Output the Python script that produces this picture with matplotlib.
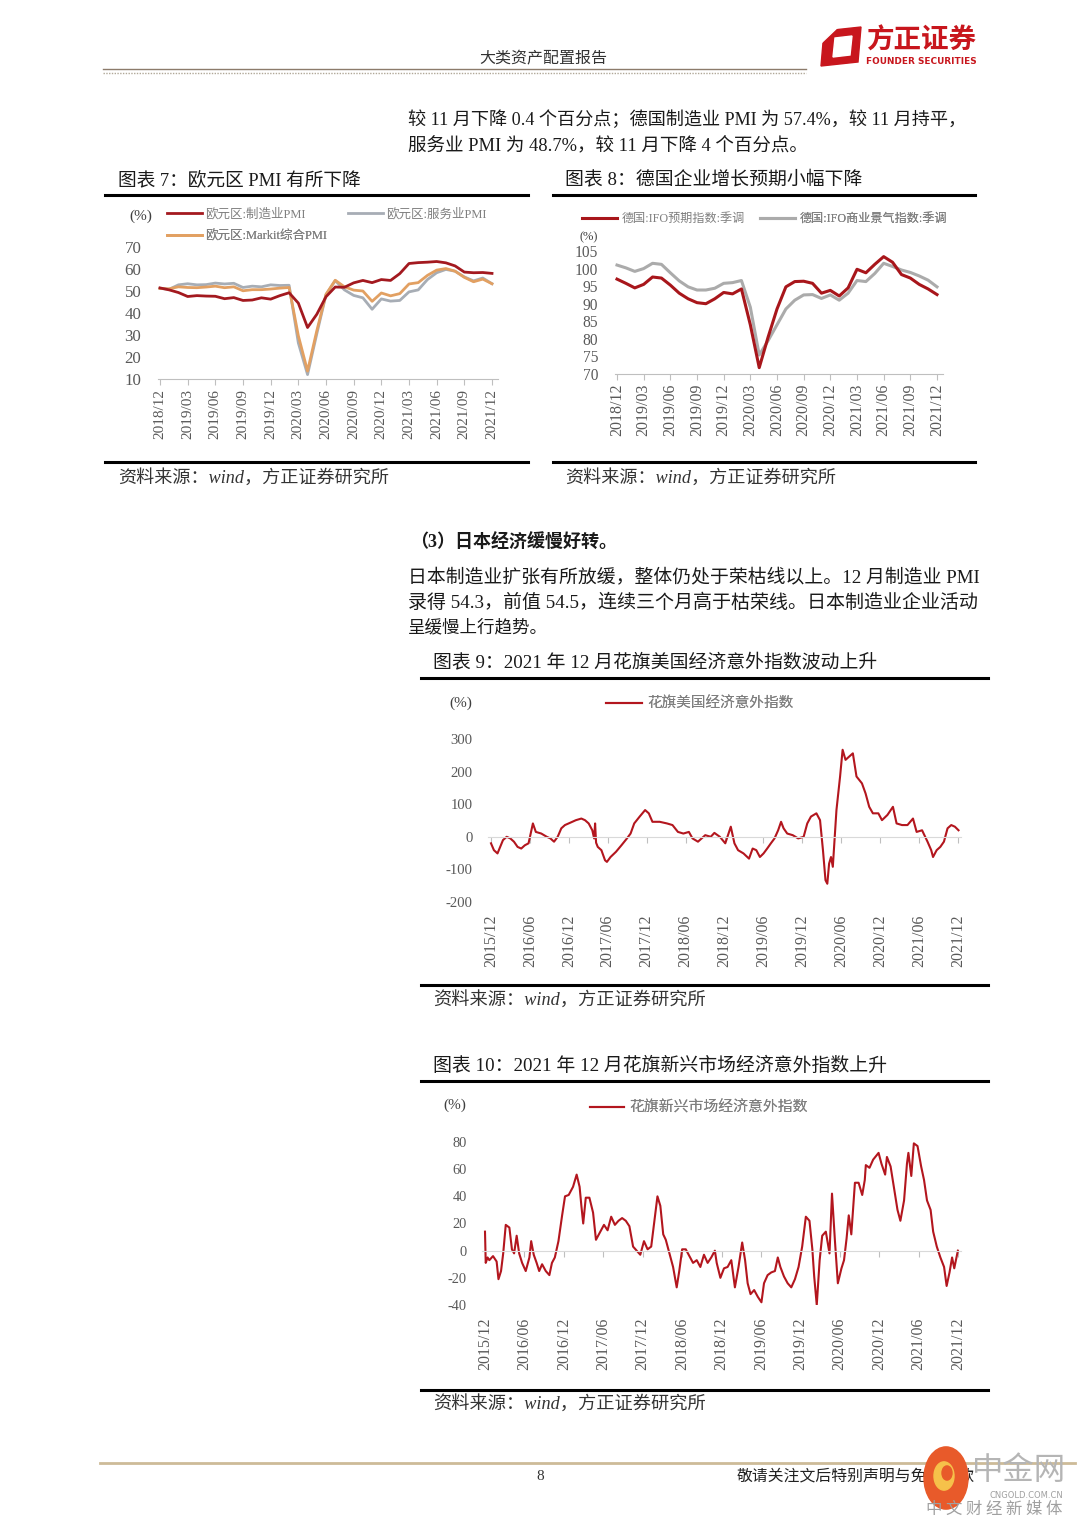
import matplotlib
matplotlib.use('Agg')
import matplotlib.pyplot as plt
from matplotlib.patches import Polygon, Circle
from matplotlib.lines import Line2D
import numpy as np

plt.rcParams['font.family'] = ['Liberation Serif', 'Noto Sans CJK SC']
plt.rcParams['axes.unicode_minus'] = False

# ---------------- data ----------------
# Chart 7: Eurozone PMI, monthly 2018/12 - 2021/12
ez_mfg = [51.4, 50.5, 49.3, 47.5, 47.9, 47.7, 47.6, 46.5, 47.0, 45.7, 45.9, 46.9, 46.3,
          47.9, 49.2, 44.5, 33.4, 39.4, 47.4, 51.8, 51.7, 53.7, 54.8, 53.8, 55.2,
          54.8, 57.9, 62.5, 62.9, 63.1, 63.4, 62.8, 61.4, 58.6, 58.3, 58.4, 58.0]
ez_srv = [51.2, 50.8, 52.8, 53.3, 52.8, 52.9, 53.6, 53.2, 53.5, 51.6, 52.2, 51.9, 52.8,
          52.5, 52.6, 26.4, 12.0, 30.5, 48.3, 54.7, 50.5, 48.0, 46.9, 41.7, 46.4,
          45.4, 45.7, 49.6, 50.5, 55.2, 58.3, 59.8, 59.0, 56.4, 54.6, 55.9, 53.3]
ez_comp = [51.1, 51.0, 51.9, 51.6, 51.5, 51.8, 52.2, 51.5, 51.9, 50.1, 50.6, 50.6, 50.9,
           51.3, 51.6, 29.7, 13.6, 31.9, 48.5, 54.9, 51.9, 50.4, 50.0, 45.3, 49.1,
           47.8, 48.8, 53.2, 53.8, 57.1, 59.5, 60.2, 59.0, 56.2, 54.2, 55.4, 53.3]
labels_q = ['2018/12', '2019/03', '2019/06', '2019/09', '2019/12', '2020/03', '2020/06',
            '2020/09', '2020/12', '2021/03', '2021/06', '2021/09', '2021/12']
yticks7 = [10, 20, 30, 40, 50, 60, 70]

# Chart 8: Germany IFO, monthly 2018/12 - 2021/12
ifo_exp = [97.0, 95.8, 94.5, 95.5, 97.6, 97.3, 95.3, 93.0, 91.4, 90.3, 90.0, 91.4, 93.2,
           92.8, 94.2, 84.0, 71.8, 80.5, 88.5, 94.8, 96.3, 96.4, 95.8, 93.0, 93.8,
           92.2, 94.5, 99.8, 98.8, 101.2, 103.4, 101.8, 98.3, 97.3, 95.5, 94.2, 92.6]
ifo_clim = [101.0, 100.2, 99.2, 100.0, 101.5, 101.2, 98.8, 96.5, 94.8, 93.9, 93.9, 94.4, 95.8,
            96.0, 96.6, 89.0, 75.4, 79.5, 84.0, 88.5, 91.0, 92.5, 92.6, 91.5, 92.5,
            91.0, 93.0, 96.6, 96.3, 98.6, 101.5, 100.6, 99.6, 98.9, 97.9, 96.7, 94.8]
yticks8 = [70, 75, 80, 85, 90, 95, 100, 105]

# Chart 9: Citi US economic surprise index (months since 2015/12)
us_month = [0.0, 0.45, 1.0, 1.85, 2.42, 2.98, 3.54, 4.1, 4.66, 5.22, 5.79, 6.46, 6.91, 7.75,
            8.6, 9.16, 9.72, 10.28, 10.84, 11.4, 11.97, 12.53, 13.09, 13.93, 14.49, 15.06,
            15.62, 15.9, 16.05, 16.2, 16.46, 17.02, 17.58, 17.87, 18.43, 19.27, 20.11, 20.96,
            21.52, 22.08, 22.92, 23.76, 24.33, 24.89, 26.01, 27.13, 27.98, 28.82, 29.66,
            30.51, 31.07, 31.91, 32.47, 33.03, 33.88, 34.44, 35.28, 36.12, 36.97, 37.53,
            38.09, 38.93, 39.78, 40.34, 40.9, 41.46, 42.02, 42.58, 43.15, 43.71, 44.27,
            44.72, 45.11, 45.67, 46.52, 47.36, 48.2, 48.76, 49.33, 50.17, 50.73, 51.18,
            51.57, 51.85, 52.13, 52.42, 52.7, 53.26, 53.82, 54.21, 54.66, 55.22, 55.79,
            56.35, 57.19, 57.75, 58.31, 58.88, 59.72, 60.28, 61.12, 61.97, 62.53, 63.37,
            64.21, 65.06, 65.62, 66.46, 67.3, 67.87, 68.15, 68.71, 69.27, 69.83, 70.39,
            70.96, 71.52, 72.08]
us_value = [-20, -41, -51, -10, 0, -5, -15, -31, -36, -26, -20, 41, 15, 10,
            0, -5, -15, 0, 26, 36, 41, 46, 51, 56, 51, 41,
            20, -5, 41, -18, -31, -41, -72, -77, -62, -46, -26, -5,
            10, 41, 62, 82, 72, 46, 46, 41, 36, 15, 10,
            15, -5, -15, -5, 5, 0, 12, 0, -20, 31, -20,
            -41, -51, -67, -36, -41, -62, -51, -36, -20, -5, 20,
            46, 26, 10, 5, -5, 0, 41, 62, 72, 51, -41,
            -133, -144, -82, -62, -92, 82, 185, 267, 236, 246, 256,
            185, 164, 133, 92, 72, 72, 51, 67, 92, 41, 36,
            36, 56, 15, 20, -15, -41, -62, -41, -31, -15, 26,
            36, 31, 20]
labels_h = ['2015/12', '2016/06', '2016/12', '2017/06', '2017/12', '2018/06', '2018/12',
            '2019/06', '2019/12', '2020/06', '2020/12', '2021/06', '2021/12']
yticks9 = [-200, -100, 0, 100, 200, 300]

# Chart 10: Citi EM economic surprise index (months since 2015/12)
em_month = [0.0, 0.11, 0.39, 0.66, 1.22, 1.77, 2.05, 2.44, 2.77, 3.16, 3.71, 4.1, 4.43, 4.82,
            5.2, 5.65, 6.2, 6.76, 7.03, 7.42, 7.86, 8.25, 8.69, 9.25, 9.8, 10.19, 10.63,
            11.18, 11.74, 12.18, 12.74, 13.4, 13.95, 14.4, 14.67, 14.95, 15.34, 15.89,
            16.45, 16.89, 17.55, 18.11, 18.66, 19.21, 19.77, 20.32, 20.87, 21.43, 21.98,
            22.54, 23.09, 23.64, 24.2, 24.75, 25.3, 25.86, 26.25, 26.69, 27.13, 27.52,
            28.07, 28.63, 29.18, 29.57, 30.01, 30.56, 31.12, 31.67, 32.23, 32.78, 33.33,
            33.89, 34.44, 34.99, 35.27, 35.83, 36.38, 36.93, 37.49, 38.04, 38.59, 39.15,
            39.59, 39.98, 40.42, 40.97, 41.53, 42.08, 42.47, 43.02, 43.58, 44.13, 44.57,
            44.96, 45.51, 46.07, 46.62, 47.18, 47.73, 48.28, 48.84, 49.39, 49.83, 50.11,
            50.5, 50.94, 51.33, 51.88, 52.44, 52.82, 53.27, 53.71, 54.26, 54.65, 55.04,
            55.37, 55.76, 56.31, 56.87, 57.42, 57.81, 57.97, 58.53, 59.08, 59.91, 60.35,
            60.91, 61.18, 61.74, 62.29, 62.79, 63.23, 63.79, 64.23, 64.45, 64.89, 65.28,
            65.84, 66.39, 66.83, 67.28, 67.83, 68.22, 68.77, 69.32, 69.88, 70.27, 70.71,
            71.1, 71.43, 71.98]
em_value = [14, -9, -5, -7, -4, -8, -21, -15, -2, 19, 17, 1, -2, 11,
            -2, -9, -15, -5, 7, -3, -9, -15, -10, -15, -18, -9, -5,
            7, 26, 40, 41, 47, 56, 47, 33, 20, 39, 39,
            28, 8, 14, 19, 15, 25, 19, 22, 24, 22, 18,
            3, 0, -3, 7, 1, 3, 25, 40, 33, 12, 8,
            -2, -12, -27, -15, 1, 1, -4, -9, -7, -12, -3,
            -9, -5, 0, -9, -20, -13, -12, -7, -27, -12, 6,
            -7, -24, -32, -29, -34, -38, -24, -18, -16, -15, -5,
            -12, -19, -24, -27, -21, -12, 3, 25, 22, 1, -19,
            -40, -7, 11, 14, -2, 42, 7, -24, -13, -7, 9,
            26, 12, 50, 50, 41, 52, 63, 61, 67, 72, 64,
            56, 69, 62, 45, 30, 22, 37, 64, 72, 55, 79,
            77, 62, 52, 37, 30, 14, 3, -5, -12, -26, -16,
            -5, -13, 0]
yticks10 = [-40, -20, 0, 20, 40, 60, 80]

# ---------------- page ----------------
W, H = 1080, 1527
fig = plt.figure(figsize=(W / 100, H / 100), dpi=100)
fig.patch.set_facecolor('white')
renderer = fig.canvas.get_renderer()

TXT = '#1A1A1A'
GREY = '#595959'


def fx(x):
    return x / W


def fy(y):
    return 1 - y / H


def text(x, y, s, size, x1=None, **kw):
    kw.setdefault('va', 'center')
    kw.setdefault('ha', 'left')
    kw.setdefault('color', TXT)
    t = fig.text(fx(x), fy(y), s, fontsize=size, **kw)
    if x1 is not None:
        w = t.get_window_extent(renderer).width
        t.set_fontsize(size * (x1 - x) / w)
    return t


def hline(x0, x1, y, lw, color, **kw):
    fig.add_artist(Line2D([fx(x0), fx(x1)], [fy(y), fy(y)], lw=lw, color=color,
                          transform=fig.transFigure, **kw))


def make_axes(left, right, top, bottom, tick0_px, tick1_px, t0, t1, ylim):
    ax = fig.add_axes([fx(left), fy(bottom), (right - left) / W, (bottom - top) / H])
    k = (t1 - t0) / (tick1_px - tick0_px)
    ax.set_xlim(t0 + (left - tick0_px) * k, t0 + (right - tick0_px) * k)
    ax.set_ylim(*ylim)
    ax.patch.set_alpha(0)
    for s in ['top', 'right', 'left']:
        ax.spines[s].set_visible(False)
    return ax


def legend_at(ax, handle, label, x, y, size, hl, pad):
    lg = ax.legend([handle], [label], loc='center left', bbox_to_anchor=(fx(x), fy(y)),
                   bbox_transform=fig.transFigure, frameon=False, borderpad=0,
                   borderaxespad=0, handlelength=hl, handletextpad=pad,
                   prop={'size': size})
    for t in lg.get_texts():
        t.set_color('#7F7F7F')
    ax.add_artist(lg)


# header
text(543, 58, '大类资产配置报告', 11.5, ha='center', color='#333333')
hline(103, 806, 69, 1.0, '#8C7B6B')
hline(103, 806, 72.5, 1.0, '#B0A898', linestyle=(0, (1, 1)))
# logo
fig.add_artist(Polygon([(fx(x), fy(y)) for x, y in
                        [(824, 31), (861, 27), (858, 62), (821, 66)]],
                       closed=True, color='#C8161D', transform=fig.transFigure))
fig.add_artist(Polygon([(fx(x), fy(y)) for x, y in
                        [(835, 38), (852, 36), (850, 55), (833, 57)]],
                       closed=True, color='white', transform=fig.transFigure))
fig.add_artist(Polygon([(fx(x), fy(y)) for x, y in
                        [(818, 25), (840, 25), (818, 46)]],
                       closed=True, color='white', transform=fig.transFigure))
text(866, 41, '方正证券', 20, x1=976, color='#C8161D', fontweight='bold',
     family=['Noto Sans CJK SC'])
text(866, 61, 'FOUNDER SECURITIES', 6.5, x1=976, color='#C8161D', fontweight='bold',
     family=['DejaVu Sans'])

# body text top
text(408, 120, '较 11 月下降 0.4 个百分点；德国制造业 PMI 为 57.4%，较 11 月持平，', 12.6, x1=968)
text(408, 145, '服务业 PMI 为 48.7%，较 11 月下降 4 个百分点。', 12.6, x1=808)

# ---------- chart 7 ----------
text(118, 180, '图表 7：欧元区 PMI 有所下降', 12.5, x1=362)
hline(105, 528, 195, 2.2, '#000000')
hline(105, 528, 462, 2.2, '#000000')
text(118, 478, '资料来源：wind，方正证券研究所', 12, x1=388, style='italic', color='#333333')

ax7 = make_axes(158, 498, 247, 379, 160, 492, 0, 36, (10, 70))
m7 = np.arange(len(ez_mfg))
l_srv, = ax7.plot(m7, ez_srv, color='#A7ADB5', lw=2.0)
l_cmp, = ax7.plot(m7, ez_comp, color='#E2A062', lw=2.0)
l_mfg, = ax7.plot(m7, ez_mfg, color='#A3191F', lw=2.0)
ax7.set_yticks(yticks7)
ax7.set_yticklabels([str(v) for v in yticks7])
ax7.set_xticks(np.arange(0, 37, 3))
ax7.set_xticklabels(labels_q, rotation=90)
ax7.tick_params(axis='y', length=0, labelsize=12.2, labelcolor=GREY, pad=12)
ax7.tick_params(axis='x', length=4, color='#BFBFBF', labelsize=11, labelcolor=GREY, pad=3)
ax7.spines['bottom'].set_color('#BFBFBF')
text(141, 216, '(%)', 11, ha='center', color='#404040')
legend_at(ax7, l_mfg, '欧元区:制造业PMI', 167, 214, 9, 2.8, 0.25)
legend_at(ax7, l_srv, '欧元区:服务业PMI', 348, 214, 9, 2.8, 0.25)
legend_at(ax7, l_cmp, '欧元区:Markit综合PMI', 167, 236, 9, 2.8, 0.25)

# ---------- chart 8 ----------
text(565, 180, '图表 8：德国企业增长预期小幅下降', 12.5, x1=862)
hline(553, 975, 195, 2.2, '#000000')
hline(553, 975, 462, 2.2, '#000000')
text(565, 478, '资料来源：wind，方正证券研究所', 12, x1=835, style='italic', color='#333333')

ax8 = make_axes(615, 943, 251, 374, 617, 937, 0, 36, (70, 105))
m8 = np.arange(len(ifo_exp))
l_clim, = ax8.plot(m8, ifo_clim, color='#ABABAB', lw=2.2)
l_exp, = ax8.plot(m8, ifo_exp, color='#A8161B', lw=2.2)
ax8.set_yticks(yticks8)
ax8.set_yticklabels([str(v) for v in yticks8])
ax8.set_xticks(np.arange(0, 37, 3))
ax8.set_xticklabels(labels_q, rotation=90)
ax8.tick_params(axis='y', length=0, labelsize=11.2, labelcolor=GREY, pad=12)
ax8.tick_params(axis='x', length=4, color='#BFBFBF', labelsize=11.5, labelcolor=GREY, pad=3)
ax8.spines['bottom'].set_color('#BFBFBF')
text(589, 237, '(%)', 9, ha='center', color='#404040')
legend_at(ax8, l_exp, '德国:IFO预期指数:季调', 582, 219, 8.7, 2.9, 0.4)
legend_at(ax8, l_clim, '德国:IFO商业景气指数:季调', 760, 219, 8.7, 2.9, 0.4)

# ---------- middle text ----------
text(410, 543, '（3）日本经济缓慢好转。', 12.5, x1=618, fontweight='bold')
text(408, 578, '日本制造业扩张有所放缓，整体仍处于荣枯线以上。12 月制造业 PMI', 12.6, x1=978)
text(408, 603, '录得 54.3，前值 54.5，连续三个月高于枯荣线。日本制造业企业活动', 12.6, x1=978)
text(408, 628, '呈缓慢上行趋势。', 12.6, x1=548)

# ---------- chart 9 ----------
text(433, 663, '图表 9：2021 年 12 月花旗美国经济意外指数波动上升', 12.4, x1=877)
hline(421, 988, 678, 2.2, '#000000')
hline(421, 988, 985, 2.2, '#000000')
text(433, 1000, '资料来源：wind，方正证券研究所', 12, x1=705, style='italic', color='#333333')


def surprise_axes(ax, yt, labels, ylabsize):
    ax.spines['bottom'].set_position(('data', 0))
    ax.spines['bottom'].set_color('#D9D9D9')
    ax.set_xticks(np.arange(0, 73, 6))
    ax.tick_params(axis='x', length=4, color='#BFBFBF', labelbottom=False)
    ax.set_yticks(yt)
    ax.set_yticklabels([str(v) for v in yt])
    ax.tick_params(axis='y', length=0, labelsize=ylabsize, labelcolor=GREY, pad=11)
    sec = ax.secondary_xaxis('bottom')
    sec.set_xticks(np.arange(0, 73, 6))
    sec.set_xticklabels(labels, rotation=90)
    sec.tick_params(length=0, pad=9, labelsize=11.5, labelcolor=GREY)
    sec.spines['bottom'].set_visible(False)


ax9 = make_axes(488, 961, 739, 902, 491, 958, 0, 72, (-200, 300))
l_us, = ax9.plot(us_month, us_value, color='#B3161E', lw=1.5)
surprise_axes(ax9, yticks9, labels_h, 10.6)
text(461, 703, '(%)', 11, ha='center', color='#404040')
legend_at(ax9, l_us, '花旗美国经济意外指数', 606, 704, 10.5, 2.5, 0.35)

# ---------- chart 10 ----------
text(433, 1066, '图表 10：2021 年 12 月花旗新兴市场经济意外指数上升', 12.4, x1=887)
hline(421, 988, 1081, 2.2, '#000000')
hline(421, 988, 1390, 2.2, '#000000')
text(433, 1404, '资料来源：wind，方正证券研究所', 12, x1=705, style='italic', color='#333333')

ax10 = make_axes(482, 961, 1142, 1305, 485, 958, 0, 72, (-40, 80))
l_em, = ax10.plot(em_month, em_value, color='#B3161E', lw=1.5)
surprise_axes(ax10, yticks10, labels_h, 10.4)
text(455, 1105, '(%)', 11, ha='center', color='#404040')
legend_at(ax10, l_em, '花旗新兴市场经济意外指数', 590, 1108, 10.7, 2.3, 0.35)

# ---------- footer ----------
hline(100, 1075, 1463, 2.0, '#CDBB98')
text(540, 1477, '8', 11, ha='center', color='#333333')
text(737, 1477, '敬请关注文后特别声明与免责条款', 11.5, x1=975, color='#222222',
     family=['Noto Sans CJK SC'], zorder=3)
fig.add_artist(Circle((fx(946), fy(1478)), 22 / W, color='#E85A2A',
                      transform=fig.transFigure, zorder=6))
fig.add_artist(Circle((fx(944), fy(1476)), 10 / W, color='#F6C14A',
                      transform=fig.transFigure, zorder=7))
fig.add_artist(Circle((fx(947), fy(1473)), 5 / W, color='#E85A2A',
                      transform=fig.transFigure, zorder=8))
text(972, 1470, '中金网', 22, x1=1066, color='#B5B5B5', family=['Noto Sans CJK SC'],
     zorder=9)
text(990, 1496, 'CNGOLD.COM.CN', 6.5, x1=1063, color='#A0A0A0', family=['DejaVu Sans'],
     zorder=9)
text(926, 1509, '中 文 财 经 新 媒 体', 8, x1=1063, color='#A0A0A0',
     family=['Noto Sans CJK SC'], zorder=9)

fig.savefig('out.png', dpi=100, facecolor='white')
